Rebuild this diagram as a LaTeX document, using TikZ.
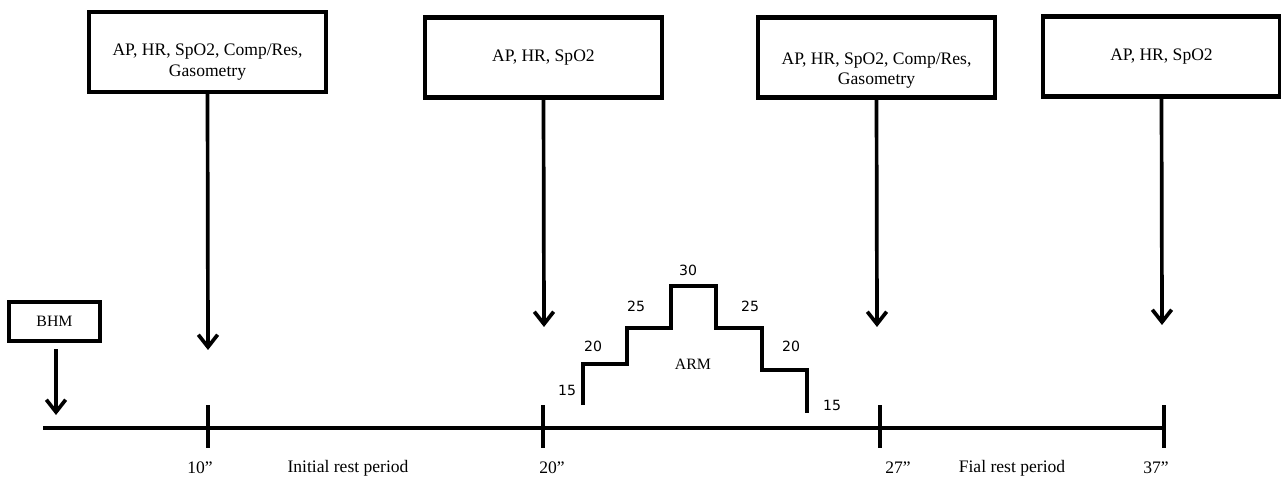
\documentclass[tikz,border=0pt]{standalone}
\usepackage{fontspec}
\setmainfont{Liberation Serif}
\newfontfamily\numfont{DejaVu Sans}
\usetikzlibrary{arrows.meta,calc}
\tikzset{
  measbox/.style={draw, line width=2.5pt, minimum width=4.74cm, minimum height=1.6cm, inner sep=0pt},
  boxtext/.style={font=\fontsize{10}{11.6}\selectfont, align=center},
  timelbl/.style={font=\fontsize{10}{12}\selectfont},
  steplbl/.style={font=\numfont\fontsize{8}{9.6}\selectfont},
  downarrow/.style={line width=2.1pt, -{Straight Barb[length=7pt,width=11pt,line width=2.1pt]}},
}
\newcommand{\timetick}[2]{% tick mark named #1 on the time axis at x=#2
  \coordinate (#1) at (#2,428);
  \draw[line width=1.9pt] ($(#1)+(0,-23)$) -- ($(#1)+(0,20)$);
}

\begin{document}
\begin{tikzpicture}[x=0.02cm,y=-0.02cm]
  \useasboundingbox (0,0) rectangle (1281,479);
  % time axis
  \coordinate (t0) at (43,428);
  \coordinate (tend) at (1165,428);
  \draw[line width=1.9pt] (t0) -- (tend);
  \timetick{t10}{208} \timetick{t20}{543} \timetick{t27}{880} \timetick{t37}{1164}
  \node[timelbl] (l10) at (200,468) {10''};
  \node[timelbl] (lrest1) at (348,468) {Initial rest period};
  \node[timelbl] (l20) at (552,468) {20''};
  \node[timelbl] (l27) at (898,468) {27''};
  \node[timelbl] (lrest2) at (1012,468) {Fial rest period};
  \node[timelbl] (l37) at (1156,468) {37''};

  % measurement boxes and arrows
  \node[measbox] (m1) at (207.5,52) {};
  \node[boxtext] (m1txt) at ($(m1.center)+(0,10)$) {AP, HR, SpO2, Comp/Res,\\Gasometry};
  \node[measbox] (m2) at (543.5,57.5) {};
  \node[boxtext] (m2txt) at (m2.center) {AP, HR, SpO2};
  \node[measbox] (m3) at (876.5,57.5) {};
  \node[boxtext] (m3txt) at ($(m3.center)+(0,13)$) {AP, HR, SpO2, Comp/Res,\\Gasometry};
  \node[measbox] (m4) at (1161.5,56.5) {};
  \node[boxtext] (m4txt) at (m4.center) {AP, HR, SpO2};
  \coordinate (a1) at (208,350);
  \coordinate (a2) at (544,327);
  \coordinate (a3) at (877,327);
  \coordinate (a4) at (1162,325);
  \draw[downarrow] (m1.south) -- (a1);
  \draw[downarrow] (m2.south) -- (a2);
  \draw[downarrow] (m3.south) -- (a3);
  \draw[downarrow] (m4.south) -- (a4);

  % BHM
  \node[draw, line width=2.3pt, minimum width=1.82cm, minimum height=0.78cm, inner sep=0pt,
        font=\fontsize{9}{11}\selectfont] (bhm) at (54.5,321.5) {BHM};
  \coordinate (b0) at (56,415);
  \draw[downarrow] ($(bhm.south)+(1.5,6)$) -- (b0);

  % ARM steps
  \draw[line width=1.8pt] (583,405) -- (583,364) -- (627,364) -- (627,328) -- (671,328)
    -- (671,286) -- (716,286) -- (716,328) -- (762,328) -- (762,370) -- (807,370) -- (807,413);
  \node[steplbl] (s15a) at (567,390) {15};
  \node[steplbl] (s20a) at (593,346) {20};
  \node[steplbl] (s25a) at (636,306) {25};
  \node[steplbl] (s30) at (688,270) {30};
  \node[steplbl] (s25b) at (750,306) {25};
  \node[steplbl] (s20b) at (791,346) {20};
  \node[steplbl] (s15b) at (832,405) {15};
  \node[timelbl, font=\fontsize{9}{11}\selectfont] (arm) at (693,364) {ARM};
\end{tikzpicture}
\end{document}
